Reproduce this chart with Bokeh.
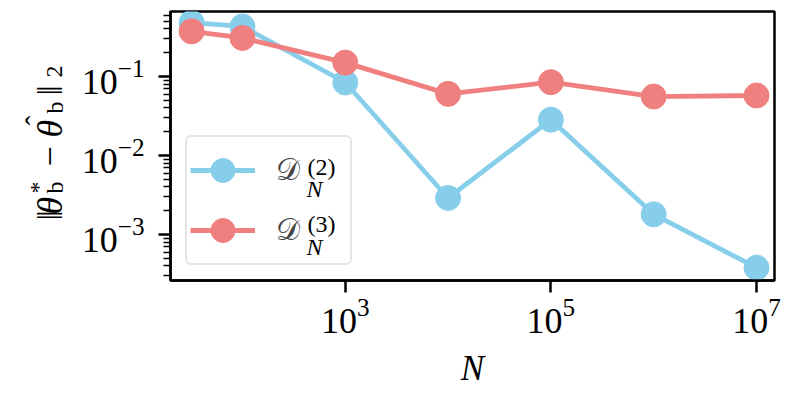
import math
from bokeh.plotting import figure
from bokeh.layouts import row
from bokeh.models import Range1d, FixedTicker, Label, Legend, LegendItem
from bokeh.embed import file_html
from bokeh.resources import INLINE

# ---------------- data ----------------
N_values = [32, 100, 1e3, 1e4, 1e5, 1e6, 1e7]
err_D2 = [0.48, 0.43, 0.084, 0.0029, 0.0284, 0.0018, 0.00038]
err_D3 = [0.373, 0.308, 0.150, 0.0603, 0.0848, 0.0558, 0.0575]
x_ticks = [1e3, 1e5, 1e7]
y_ticks = [1e-3, 1e-2, 1e-1]
legend_sup = ["(2)", "(3)"]

BLUE = "#87CEEB"
RED = "#F08080"
SERIF = "Liberation Serif"

LW = 76  # width of the strip that carries the y-axis label

p = figure(width=793 - LW, height=397, x_axis_type="log", y_axis_type="log",
           x_range=Range1d(10 ** 1.30, 10 ** 7.175),
           y_range=Range1d(10 ** -3.582, 10 ** -0.177),
           output_backend="svg", toolbar_location=None,
           min_border_left=170 - LW, min_border_right=19,
           min_border_top=11, min_border_bottom=117)
p.grid.visible = False
p.outline_line_color = "black"
p.outline_line_width = 2.5
p.outline_line_alpha = 1.0
p.background_fill_color = "white"
p.border_fill_color = "white"

minor = [m * 10.0 ** e for e in range(-4, 0) for m in range(2, 10)]
p.xaxis.ticker = FixedTicker(ticks=x_ticks, minor_ticks=[])
p.yaxis.ticker = FixedTicker(ticks=y_ticks, minor_ticks=minor)

for ax in (p.xaxis[0], p.yaxis[0]):
    ax.axis_line_width = 2.5
    ax.axis_line_color = "black"
    ax.major_tick_out = 12
    ax.major_tick_in = 0
    ax.major_tick_line_width = 2.5
    ax.minor_tick_out = 7
    ax.minor_tick_in = 0
    ax.minor_tick_line_width = 1.5
    ax.major_label_text_font = SERIF
    ax.major_label_text_font_size = "36px"
    ax.major_label_text_color = "black"
p.xaxis.major_label_standoff = 6
p.yaxis.major_label_standoff = 14

p.xaxis.axis_label = "N"
p.xaxis.axis_label_text_font = SERIF
p.xaxis.axis_label_text_font_style = "italic"
p.xaxis.axis_label_text_font_size = "35px"
p.xaxis.axis_label_text_color = "black"
p.xaxis.axis_label_standoff = 13

l2 = p.line(N_values, err_D2, line_color=BLUE, line_width=4.8)
s2 = p.scatter(N_values, err_D2, size=25, fill_color=BLUE, line_color=BLUE)
l3 = p.line(N_values, err_D3, line_color=RED, line_width=4.8)
s3 = p.scatter(N_values, err_D3, size=25, fill_color=RED, line_color=RED)

legend = Legend(items=[LegendItem(label="\U0001D49F", renderers=[l2, s2]),
                       LegendItem(label="\U0001D49F", renderers=[l3, s3])],
                location=(15, 15), orientation="vertical",
                glyph_width=65, glyph_height=60, padding=3, spacing=-3,
                label_standoff=21, label_width=71, margin=0,
                label_text_font=SERIF, label_text_font_size="30px",
                border_line_color="#cccccc", border_line_width=2.5,
                background_fill_color="white", background_fill_alpha=0.0)
if "border_radius" in Legend.properties():
    legend.border_radius = 6
p.add_layout(legend)

# legend super/subscripts (screen units relative to the frame)
for sup, ys, yn in zip(legend_sup, [114, 57], [92, 34]):
    p.add_layout(Label(x=137, y=ys, x_units="screen", y_units="screen", text=sup,
                       text_font=SERIF, text_font_size="24px", text_color="black",
                       text_baseline="alphabetic", text_align="left", level="overlay"))
    p.add_layout(Label(x=136, y=yn, x_units="screen", y_units="screen", text="N",
                       text_font=SERIF, text_font_style="italic", text_font_size="24px",
                       text_color="black", text_baseline="alphabetic", text_align="left",
                       level="overlay"))

# ---------------- y-axis label strip ----------------
lab = figure(width=LW, height=397, output_backend="svg", toolbar_location=None,
             x_range=Range1d(0, 1), y_range=Range1d(0, 1),
             x_axis_location=None, y_axis_location=None, min_border=0)
lab.grid.visible = False
lab.outline_line_color = None
lab.background_fill_color = "white"
lab.border_fill_color = "white"

FRAME_BOTTOM = 280  # the strip's frame is aligned with the main frame
# (text, baseline x, start y in page pixels, size, style)
ypieces = [
    ("\u2016", 49, 220, "36px", "normal"),
    ("\u03b8", 49, 214, "36px", "italic"),
    ("*", 37, 193, "24px", "normal"),
    ("b", 54, 193, "24px", "normal"),
    ("\u2212", 49, 166, "36px", "normal"),
    ("\u03b8", 49, 137, "36px", "italic"),
    ("\u02c6", 35, 125, "30px", "normal"),
    ("b", 54, 113, "24px", "normal"),
    ("\u2016", 49, 95, "36px", "normal"),
    ("2", 54, 77, "24px", "normal"),
]
for txt, cx, cy, fs, st in ypieces:
    lab.add_layout(Label(x=cx, y=FRAME_BOTTOM - cy, x_units="screen", y_units="screen",
                         text=txt, angle=math.pi / 2, text_font=SERIF, text_font_size=fs,
                         text_font_style=st, text_color="black",
                         text_baseline="alphabetic", text_align="left"))

layout = row(lab, p, spacing=0)
open("out.html", "w").write(file_html(layout, INLINE))
